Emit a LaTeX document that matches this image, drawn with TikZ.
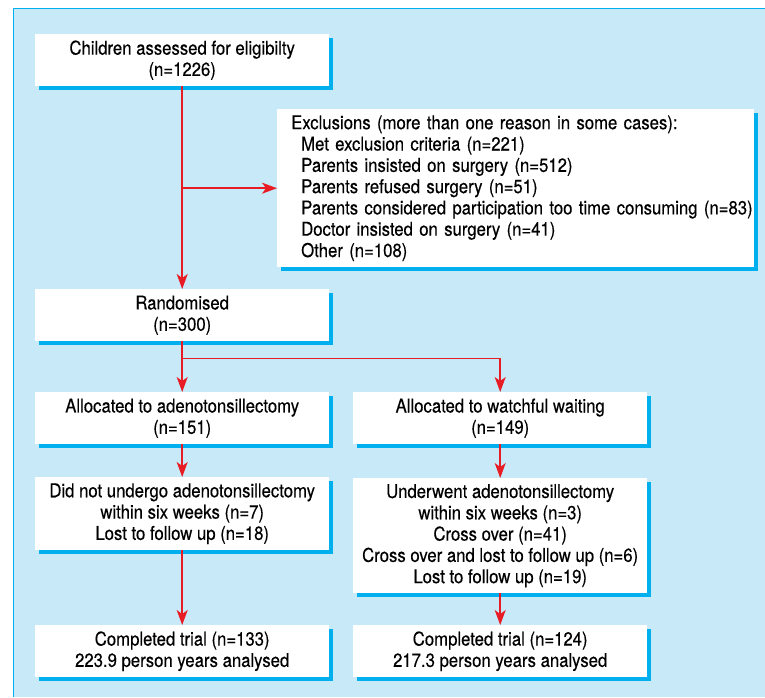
\documentclass[tikz,border=0pt]{standalone}
\usepackage{fontspec}
\setmainfont{TeX Gyre Heros}[FakeStretch=0.88,FakeBold=0.3]
\usetikzlibrary{arrows.meta,shadows}
\definecolor{bgblue}{RGB}{200,234,248}
\definecolor{framecyan}{RGB}{0,176,238}
\definecolor{arrowred}{RGB}{232,28,36}

\begin{document}
\begin{tikzpicture}[x=1pt,y=-1pt]
\tikzset{
  box/.style={fill=white, anchor=north west, inner sep=0pt,
    minimum width=294pt, minimum height=52pt, align=center,
    font=\fontsize{19}{21.3}\selectfont,
    general shadow={fill=framecyan, shadow xshift=4pt, shadow yshift=-4pt}},
  flow/.style={draw=arrowred, line width=1.6pt,
    -{Stealth[length=15pt,width=11pt,inset=4pt]}}
}
\useasboundingbox (0,0) rectangle (765,697);
\fill [bgblue] (13,8) rectangle (765,697);
\draw [framecyan, line width=1pt] (13,697) -- (13,8) -- (765,8);
% boxes
\node [box] (assessed) at (35,34) {Children assessed for eligibilty\\(n=1226)};
\node [box, minimum width=477pt, minimum height=158pt,
  text width=477pt, align=left] (excl) at (277,109)
  {\hspace*{14pt}Exclusions (more than one reason in some cases):\\
   \hspace*{24pt}Met exclusion criteria (n=221)\\
   \hspace*{24pt}Parents insisted on surgery (n=512)\\
   \hspace*{24pt}Parents refused surgery (n=51)\\
   \hspace*{24pt}Parents considered participation too time consuming (n=83)\\
   \hspace*{24pt}Doctor insisted on surgery (n=41)\\
   \hspace*{24pt}Other (n=108)};
\node [box] (random) at (35,289) {Randomised\\(n=300)};
\node [box] (alloc_at) at (35,392) {Allocated to adenotonsillectomy\\(n=151)};
\node [box] (alloc_ww) at (353,392) {Allocated to watchful waiting\\(n=149)};
\node [box, minimum height=73pt] (lost_at) at (35,477)
  {Did not undergo adenotonsillectomy\\within six weeks (n=7)\\Lost to follow up (n=18)};
\node [box, minimum height=115pt] (lost_ww) at (353,478)
  {Underwent adenotonsillectomy\\within six weeks (n=3)\\Cross over (n=41)\\
   Cross over and lost to follow up (n=6)\\Lost to follow up (n=19)};
\node [box] (done_at) at (35,625) {Completed trial (n=133)\\223.9 person years analysed};
\node [box] (done_ww) at (353,625) {Completed trial (n=124)\\217.3 person years analysed};
% arrows
\coordinate (exclsplit) at (assessed.south |- excl.west);
\coordinate (armsplit) at ([yshift=-17pt]random.south);
\draw [flow] (assessed) -- (random);
\draw [flow] (exclsplit) -- (excl.west);
\draw [flow] (random) -- (alloc_at);
\draw [flow] (armsplit) -| (alloc_ww);
\draw [flow] (alloc_at) -- (lost_at);
\draw [flow] (alloc_ww) -- (lost_ww);
\draw [flow] (lost_at) -- (done_at);
\draw [flow] (lost_ww) -- (done_ww);
\end{tikzpicture}
\end{document}
